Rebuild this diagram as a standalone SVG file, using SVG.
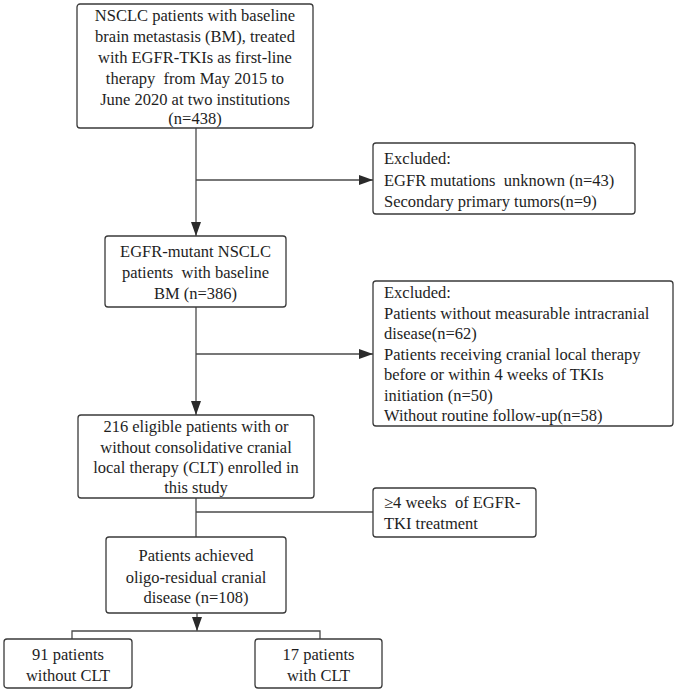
<svg xmlns="http://www.w3.org/2000/svg" width="677" height="692" viewBox="0 0 677 692">
<style>
.box{fill:#fff;stroke:#3a3a3a;stroke-width:1.3}
.ln{fill:none;stroke:#4a4a4a;stroke-width:1.3}
text{font-family:'Liberation Serif', 'Times New Roman', serif;font-size:16.5px;fill:#1e1e1e;white-space:pre}
.c{text-anchor:middle}
</style>
<defs>
<marker id="av" viewBox="0 0 14 12" refX="14" refY="6" markerWidth="14" markerHeight="12" markerUnits="userSpaceOnUse" orient="auto">
<path d="M0,1 L14,6 L0,11 Z" fill="#2a2a2a"/>
</marker>
</defs>
<g id="connectors">
<line class="ln" x1="196" y1="128" x2="196" y2="236" marker-end="url(#av)"/>
<line class="ln" x1="196" y1="180" x2="373" y2="180" marker-end="url(#av)"/>
<line class="ln" x1="196" y1="307" x2="196" y2="415" marker-end="url(#av)"/>
<line class="ln" x1="196" y1="354" x2="373" y2="354" marker-end="url(#av)"/>
<line class="ln" x1="196" y1="498" x2="196" y2="537"/>
<line class="ln" x1="196" y1="512" x2="373" y2="512"/>
<line class="ln" x1="197" y1="613" x2="197" y2="631" marker-end="url(#av)"/>
<polyline class="ln" points="72,639 72,631 320,631 320,639"/>
</g>
<g id="n1">
<rect class="box" x="77" y="4" width="236" height="124" rx="3"/>
<text class="c" x="195" y="21">NSCLC patients with baseline</text>
<text class="c" x="195" y="42">brain metastasis (BM), treated</text>
<text class="c" x="195" y="63">with EGFR-TKIs as first-line</text>
<text class="c" x="195" y="84">therapy  from May 2015 to</text>
<text class="c" x="195" y="105">June 2020 at two institutions</text>
<text class="c" x="195" y="124">(n=438)</text>
</g>
<g id="n2">
<rect class="box" x="373" y="143" width="262" height="71" rx="3"/>
<text x="384" y="164">Excluded:</text>
<text x="384" y="186">EGFR mutations  unknown (n=43)</text>
<text x="384" y="207">Secondary primary tumors(n=9)</text>
</g>
<g id="n3">
<rect class="box" x="105" y="236" width="181" height="71" rx="3"/>
<text class="c" x="195.5" y="257">EGFR-mutant NSCLC</text>
<text class="c" x="195.5" y="278">patients  with baseline</text>
<text class="c" x="195.5" y="299">BM (n=386)</text>
</g>
<g id="n4">
<rect class="box" x="373" y="281" width="300" height="145" rx="3"/>
<text x="384" y="298">Excluded:</text>
<text x="384" y="318.5">Patients without measurable intracranial</text>
<text x="384" y="339">disease(n=62)</text>
<text x="384" y="359.5">Patients receiving cranial local therapy</text>
<text x="384" y="380">before or within 4 weeks of TKIs</text>
<text x="384" y="400.5">initiation (n=50)</text>
<text x="384" y="421">Without routine follow-up(n=58)</text>
</g>
<g id="n5">
<rect class="box" x="78" y="415" width="236" height="83" rx="3"/>
<text class="c" x="196" y="432">216 eligible patients with or</text>
<text class="c" x="196" y="453">without consolidative cranial</text>
<text class="c" x="196" y="473">local therapy (CLT) enrolled in</text>
<text class="c" x="196" y="493">this study</text>
</g>
<g id="n6">
<rect class="box" x="373" y="488" width="163" height="49" rx="3"/>
<text x="384" y="508">≥4 weeks  of EGFR-</text>
<text x="384" y="529">TKI treatment</text>
</g>
<g id="n7">
<rect class="box" x="106" y="537" width="180" height="76" rx="3"/>
<text class="c" x="196" y="561">Patients achieved</text>
<text class="c" x="196" y="583">oligo-residual cranial</text>
<text class="c" x="196" y="603">disease (n=108)</text>
</g>
<g id="n8">
<rect class="box" x="4" y="639" width="128" height="49" rx="3"/>
<text class="c" x="68" y="660">91 patients</text>
<text class="c" x="68" y="681">without CLT</text>
</g>
<g id="n9">
<rect class="box" x="255" y="639" width="127" height="49" rx="3"/>
<text class="c" x="318.5" y="660">17 patients</text>
<text class="c" x="318.5" y="681">with CLT</text>
</g>
</svg>
